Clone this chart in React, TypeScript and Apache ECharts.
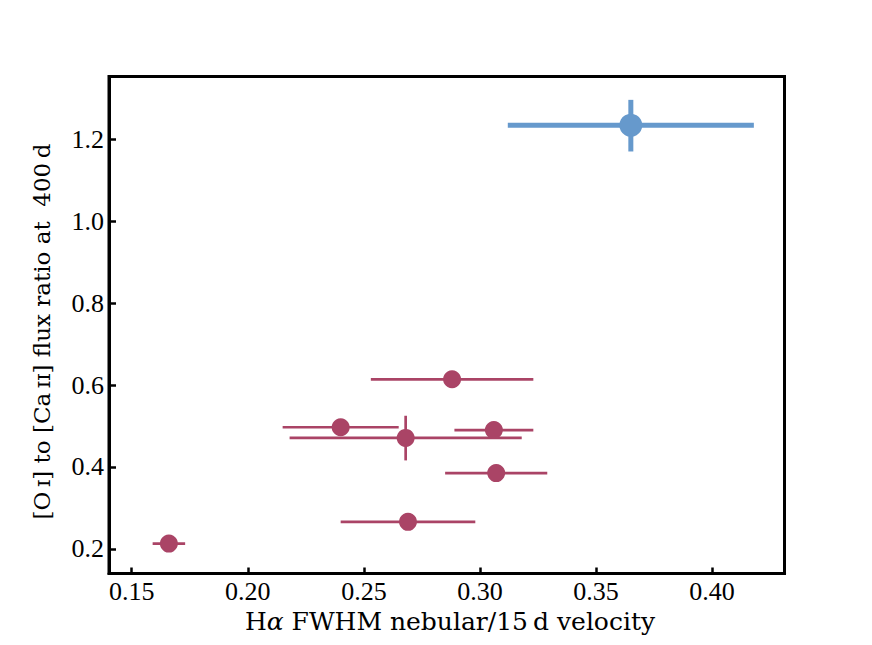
import React, { useEffect, useRef } from "react";
import * as echarts from "echarts";

// Red sample (points with horizontal error bars)
const redX = [0.288, 0.240, 0.268, 0.306, 0.307, 0.269, 0.166];
const redY = [0.614, 0.497, 0.471, 0.490, 0.385, 0.266, 0.213];
const redXLo = [0.253, 0.215, 0.218, 0.289, 0.285, 0.240, 0.159];
const redXHi = [0.323, 0.265, 0.318, 0.323, 0.329, 0.298, 0.173];
const redYLo = [0.614, 0.497, 0.416, 0.490, 0.385, 0.266, 0.213];
const redYHi = [0.614, 0.497, 0.525, 0.490, 0.385, 0.266, 0.213];

// Blue highlighted object
const blueX = [0.365];
const blueY = [1.234];
const blueXLo = [0.312];
const blueXHi = [0.418];
const blueYLo = [1.170];
const blueYHi = [1.296];

const xTicks = [0.15, 0.2, 0.25, 0.3, 0.35, 0.4];
const yTicks = [0.2, 0.4, 0.6, 0.8, 1.0, 1.2];

const xTitle = "H{a|α} FWHM nebular/15\u2009d velocity";
const yTitle = "[O\u2009ɪ] to [Ca\u2009ɪɪ] flux ratio at  400\u2009d";

const RED = "#aa4466";
const BLUE = "#6699cc";
const FONT = "'Liberation Serif', serif";
const TFONT = "'DejaVu Serif', serif";

function rows(x: number[], y: number[], xl: number[], xh: number[], yl: number[], yh: number[]) {
  return x.map((v, i) => [v, y[i], xl[i], xh[i], yl[i], yh[i]]);
}

function errRender(color: string, width: number) {
  return (_params: any, api: any) => {
    const x = api.value(0);
    const y = api.value(1);
    const l = api.coord([api.value(2), y]);
    const r = api.coord([api.value(3), y]);
    const lo = api.coord([x, api.value(4)]);
    const hi = api.coord([x, api.value(5)]);
    const children: any[] = [
      {
        type: "line",
        shape: { x1: l[0], y1: l[1], x2: r[0], y2: r[1] },
        style: { stroke: color, lineWidth: width },
      },
    ];
    if (Math.abs(lo[1] - hi[1]) > 0.5) {
      children.push({
        type: "line",
        shape: { x1: lo[0], y1: lo[1], x2: hi[0], y2: hi[1] },
        style: { stroke: color, lineWidth: width },
      });
    }
    return { type: "group", children };
  };
}

export default function App() {
  const ref = useRef<HTMLDivElement>(null);
  useEffect(() => {
    const chart = echarts.init(ref.current!, null, { renderer: "svg" });
    const redRows = rows(redX, redY, redXLo, redXHi, redYLo, redYHi);
    const blueRows = rows(blueX, blueY, blueXLo, blueXHi, blueYLo, blueYHi);
    chart.setOption({
      animation: false,
      backgroundColor: "#ffffff",
      textStyle: { fontFamily: FONT },
      grid: {
        left: 109,
        top: 76.5,
        width: 675.5,
        height: 497,
        show: true,
        borderColor: "#000",
        borderWidth: 3,
        backgroundColor: "transparent",
      },
      graphic: [
        {
          type: "text",
          x: 450,
          y: 621.5,
          style: {
            text: xTitle,
            fontFamily: TFONT,
            fontSize: 25,
            fill: "#000",
            align: "center",
            verticalAlign: "middle",
            rich: { a: { fontFamily: TFONT, fontSize: 25, fontStyle: "italic", fill: "#000" } },
          },
        },
        {
          type: "text",
          x: 41.5,
          y: 331.5,
          rotation: Math.PI / 2,
          style: {
            text: yTitle,
            fontFamily: TFONT,
            fontSize: 23,
            fill: "#000",
            align: "center",
            verticalAlign: "middle",
          },
        },
      ],
      xAxis: {
        type: "value",
        min: 0.1402,
        max: 0.4312,
        axisLine: { show: true, lineStyle: { color: "#000", width: 3 } },
        axisTick: { show: true, inside: true, length: 6, lineStyle: { color: "#000", width: 2.5 }, customValues: xTicks },
        axisLabel: {
          customValues: xTicks,
          formatter: (v: number) => v.toFixed(2),
          fontFamily: FONT,
          fontSize: 26,
          lineHeight: 24,
          color: "#000",
          margin: 6,
        },
        splitLine: { show: false },
      },
      yAxis: {
        type: "value",
        min: 0.14,
        max: 1.353,
        axisLine: { show: true, lineStyle: { color: "#000", width: 3 } },
        axisTick: { show: true, inside: true, length: 7, lineStyle: { color: "#000", width: 2.5 }, customValues: yTicks },
        axisLabel: {
          customValues: yTicks,
          formatter: (v: number) => v.toFixed(1),
          fontFamily: FONT,
          fontSize: 26,
          color: "#000",
          margin: 5,
        },
        splitLine: { show: false },
      },
      series: [
        {
          type: "custom",
          name: "redErr",
          renderItem: errRender(RED, 2.7),
          data: redRows,
          encode: { x: 0, y: 1 },
          z: 2,
          silent: true,
        },
        {
          type: "scatter",
          name: "red",
          data: redX.map((v, i) => [v, redY[i]]),
          symbol: "circle",
          symbolSize: 18,
          itemStyle: { color: RED, opacity: 1 },
          z: 3,
        },
        {
          type: "custom",
          name: "blueErr",
          renderItem: errRender(BLUE, 5),
          data: blueRows,
          encode: { x: 0, y: 1 },
          z: 4,
          silent: true,
        },
        {
          type: "scatter",
          name: "blue",
          data: blueX.map((v, i) => [v, blueY[i]]),
          symbol: "circle",
          symbolSize: 23,
          itemStyle: { color: BLUE, opacity: 1 },
          z: 5,
        },
      ],
    });
    return () => chart.dispose();
  }, []);
  return <div ref={ref} style={{ position: "absolute", left: 0, top: 0, width: 872, height: 645 }} />;
}
